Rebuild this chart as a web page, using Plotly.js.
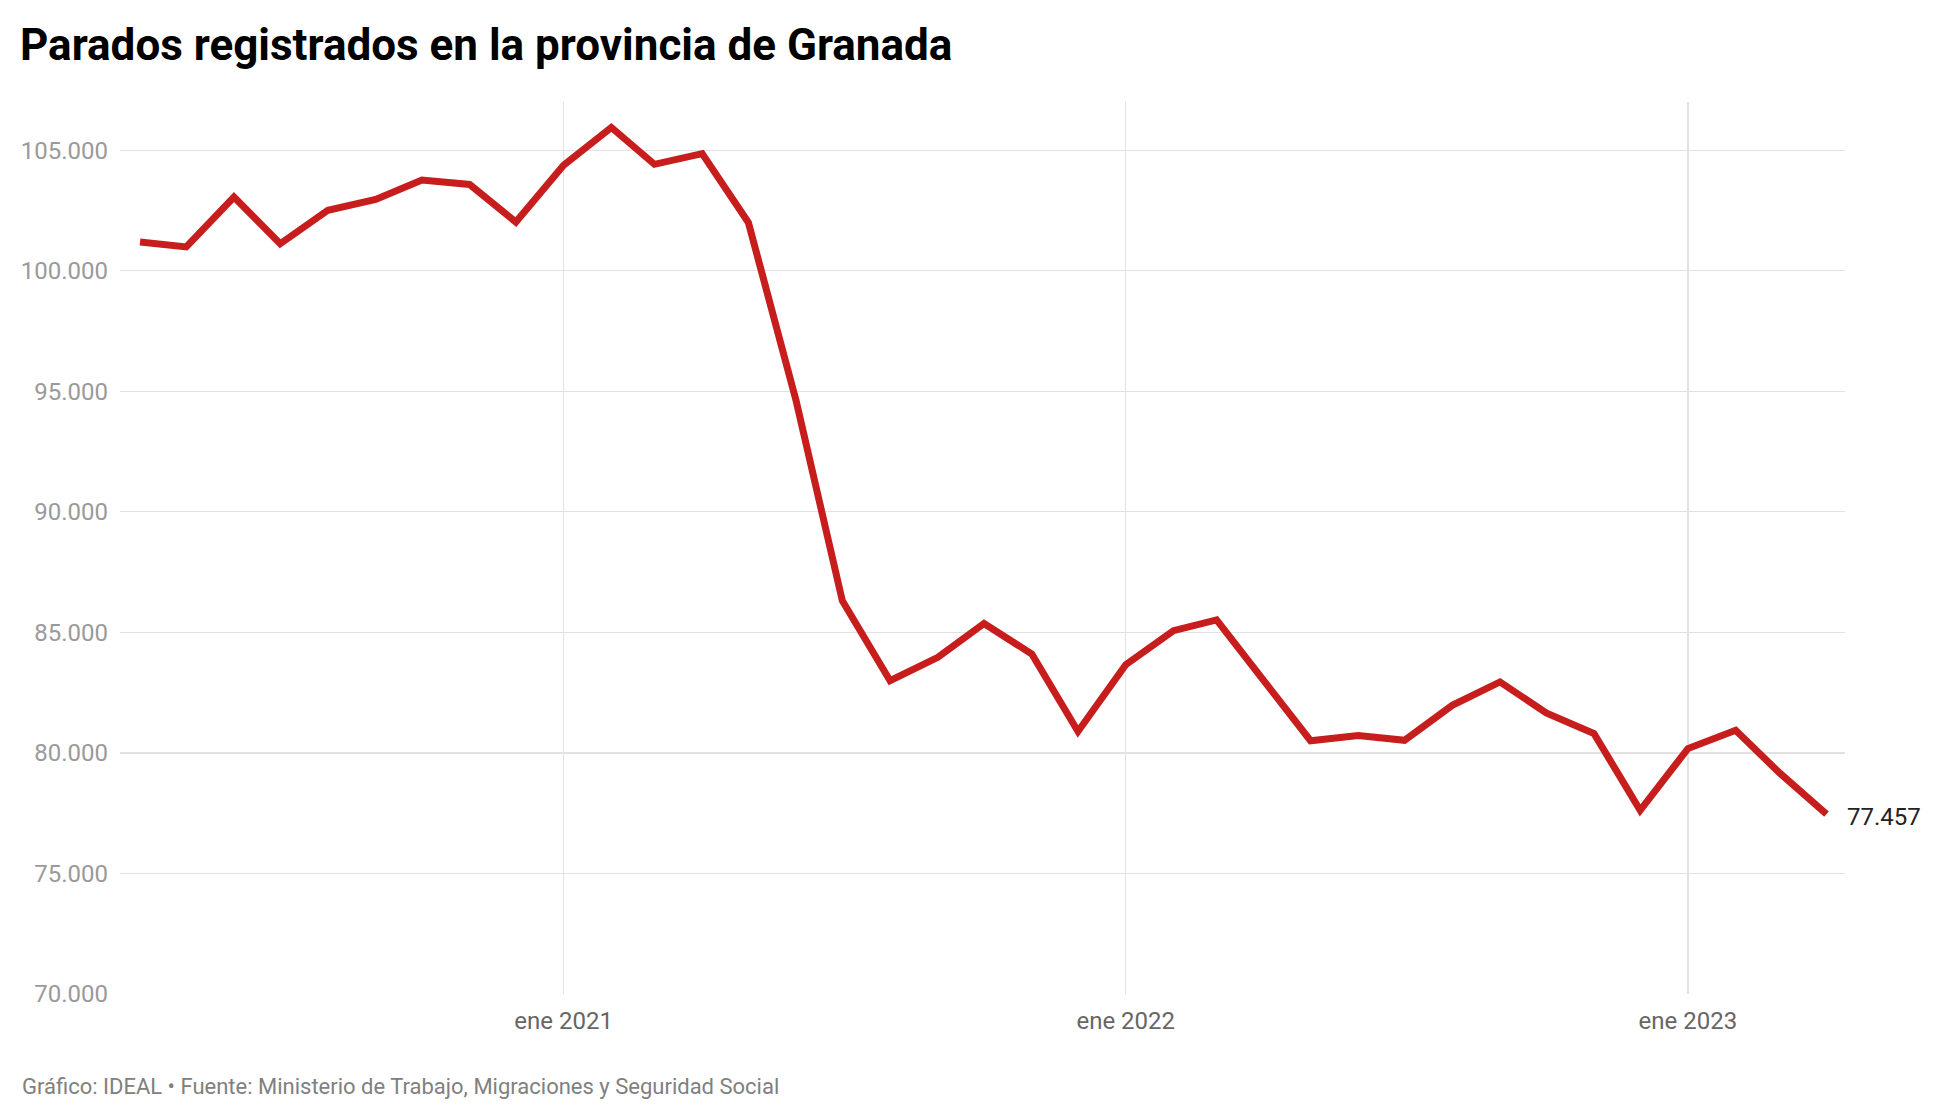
<!DOCTYPE html>
<html>
<head>
<meta charset="utf-8">
<script src="https://cdn.plot.ly/plotly-3.0.1.min.js"></script>
<style>
  html, body { margin: 0; padding: 0; background: #ffffff; }
  #chart { width: 1960px; height: 1120px; }
</style>
</head>
<body>
<div id="chart"></div>
<script>
// Monthly registered unemployed, province of Granada (Apr 2020 – Apr 2023)
const months = [
  '2020-04-01','2020-05-01','2020-06-01','2020-07-01','2020-08-01','2020-09-01',
  '2020-10-01','2020-11-01','2020-12-01','2021-01-01','2021-02-01','2021-03-01',
  '2021-04-01','2021-05-01','2021-06-01','2021-07-01','2021-08-01','2021-09-01',
  '2021-10-01','2021-11-01','2021-12-01','2022-01-01','2022-02-01','2022-03-01',
  '2022-04-01','2022-05-01','2022-06-01','2022-07-01','2022-08-01','2022-09-01',
  '2022-10-01','2022-11-01','2022-12-01','2023-01-01','2023-02-01','2023-03-01',
  '2023-04-01'
];
const parados = [
  101195, 100990, 103060, 101120, 102510, 102955,
  103760, 103580, 102020, 104380, 105945, 104415,
  104860, 102000, 94600, 86310, 82995, 83965,
  85370, 84100, 80890, 83660, 85070, 85515,
  82970, 80505, 80720, 80525, 81975, 82945,
  81660, 80805, 77620, 80180, 80940, 79200,
  77457
];
const xTickVals = ['2021-01-01', '2022-01-01', '2023-01-01'];
const xTickText = ['ene 2021', 'ene 2022', 'ene 2023'];
const lastLabel = '77.457';

const titleText = 'Parados registrados en la provincia de Granada';
const footerText = 'Gráfico: IDEAL • Fuente: Ministerio de Trabajo, Migraciones y Seguridad Social';

const W = 1960, H = 1120;
const M = { l: 120, r: 115, t: 102, b: 126 };
const plotW = W - M.l - M.r, plotH = H - M.t - M.b;

const trace = {
  type: 'scatter',
  mode: 'lines',
  x: months,
  y: parados,
  line: { color: '#c71d1d', width: 7, shape: 'linear' },
  hoverinfo: 'skip'
};

const layout = {
  width: W,
  height: H,
  margin: M,
  paper_bgcolor: '#ffffff',
  plot_bgcolor: '#ffffff',
  separators: ',.',
  showlegend: false,
  font: { family: 'Roboto, "Noto Sans", sans-serif', color: '#333' },
  title: {
    text: titleText,
    font: { family: 'Roboto, sans-serif', size: 44, color: '#000000', weight: 700 },
    x: 20 / W, xref: 'container', xanchor: 'left',
    y: 1 - 45 / H, yref: 'container', yanchor: 'middle'
  },
  xaxis: {
    type: 'date',
    range: ['2020-03-19', '2023-04-13'],
    tickmode: 'array',
    tickvals: xTickVals,
    ticktext: xTickText,
    showgrid: true,
    gridcolor: '#e2e2e2',
    gridwidth: 1.3,
    zeroline: false,
    showline: false,
    ticks: '',
    ticklabelstandoff: 10,
    tickfont: { family: 'Roboto, sans-serif', size: 24, color: '#666666' },
    fixedrange: true
  },
  yaxis: {
    range: [70000, 107000],
    tick0: 70000,
    dtick: 5000,
    tickformat: ',d',
    showgrid: true,
    gridcolor: '#e2e2e2',
    gridwidth: 1.3,
    zeroline: false,
    showline: false,
    ticks: '',
    ticklabelstandoff: 11,
    tickfont: { family: 'Roboto, sans-serif', size: 24, color: '#9a9a9a' },
    fixedrange: true
  },
  annotations: [
    {
      x: months[months.length - 1],
      y: parados[parados.length - 1],
      xref: 'x', yref: 'y',
      text: lastLabel,
      showarrow: false,
      xanchor: 'left', yanchor: 'middle',
      xshift: 18, yshift: -3,
      font: { family: 'Roboto, sans-serif', size: 24, color: '#222222' }
    },
    {
      x: (20 - M.l) / plotW,
      y: -(1086 - (H - M.b)) / plotH,
      xref: 'paper', yref: 'paper',
      text: footerText,
      showarrow: false,
      xanchor: 'left', yanchor: 'middle',
      font: { family: 'Roboto, sans-serif', size: 22, color: '#808080' }
    }
  ]
};

Plotly.newPlot('chart', [trace], layout, { displayModeBar: false, staticPlot: true });
</script>
</body>
</html>
